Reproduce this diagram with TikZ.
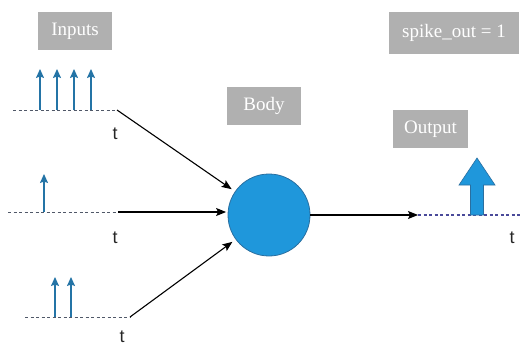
\documentclass[tikz,border=0pt]{standalone}
\usepackage{fontspec}
\setmainfont{Liberation Serif}
\newfontfamily\lblfont{Liberation Serif}
\newfontfamily\tfont{Liberation Sans}
\usetikzlibrary{arrows.meta}
\definecolor{boxgray}{HTML}{B0B0B0}
\definecolor{spikeblue}{HTML}{2474A6}
\definecolor{dashgray}{HTML}{505868}
\definecolor{dashblue}{HTML}{4A4A9A}
\definecolor{cellblue}{HTML}{1F97DB}
\definecolor{celledge}{HTML}{2A6FA0}
\begin{document}
\begin{tikzpicture}[x=1pt,y=-1pt,
  lbl/.style={fill=boxgray, text=white, font=\lblfont\fontsize{19}{21}\selectfont, inner sep=0pt, minimum width=74pt, minimum height=38pt},
  tlbl/.style={font=\tfont\fontsize{18}{20}\selectfont, text=black!85, inner sep=0pt},
  tdash/.style={draw=dashgray, line width=0.8pt, dash pattern=on 3pt off 2.5pt},
  odash/.style={draw=dashblue, line width=1.1pt, dash pattern=on 3pt off 2.5pt},
  spike/.style={draw=spikeblue, line width=1.4pt, -{Stealth[length=9pt,width=8pt,inset=1.5pt]}},
  conn/.style={draw=black, line width=1.1pt, -{Stealth[length=10pt,width=8pt,inset=2pt]}},
  neuron/.style={circle, fill=cellblue, draw=celledge, line width=0.8pt, minimum size=82pt, inner sep=0pt},
  bigarrow/.style={fill=cellblue, draw=celledge, line width=0.6pt}
]
\useasboundingbox (0,0) rectangle (520,345);

% label boxes
\node[lbl] (inputs) at (75,31) {Inputs};
\node[lbl] (body) at (264,106) {Body};
\node[lbl, minimum width=75pt] (output) at (430.5,129) {Output};
\node[lbl, minimum width=130pt, minimum height=42pt] (spikeout) at (454,33) {spike\_out = 1};

% neuron body
\node[neuron] (neuron) at (269,215) {};

% input 1
\coordinate (a1s) at (13,110);
\coordinate (a1e) at (117,110);
\draw[tdash] (a1s) -- (a1e);
\foreach \x in {40,57,74,91} \draw[spike] (\x,110) -- (\x,69);
\draw[conn, shorten >=4pt] (a1e) -- (neuron);
\node[tlbl] (t1) at (115,134) {t};

% input 2
\coordinate (a2s) at (8,212);
\coordinate (a2e) at (118,212);
\draw[tdash] (a2s) -- (a2e);
\draw[spike] (44,212) -- (44,174);
\draw[conn, shorten >=1.5pt] (a2e) -- (a2e -| neuron.west);
\node[tlbl] (t2) at (115,238) {t};

% input 3
\coordinate (a3s) at (25,317);
\coordinate (a3e) at (130,317);
\draw[tdash] (a3s) -- (a3e);
\foreach \x in {55,71} \draw[spike] (\x,317) -- (\x,277);
\draw[conn, shorten >=4pt] (a3e) -- (neuron);
\node[tlbl] (t3) at (122,337) {t};

% output
\coordinate (o1) at (418,215);
\coordinate (o2) at (520,215);
\draw[conn] (neuron.east) -- (o1);
\draw[odash] (o1) -- (o2);
\draw[bigarrow] (470.5,215) -- (470.5,185) -- (459,185) -- (477,158) -- (495,185) -- (483.5,185) -- (483.5,215) -- cycle;
\node[tlbl] (t4) at (512,238) {t};
\end{tikzpicture}
\end{document}
